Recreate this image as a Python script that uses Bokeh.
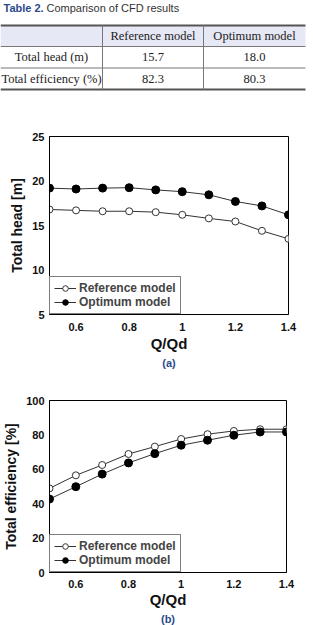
from bokeh.plotting import figure
from bokeh.layouts import column
from bokeh.models import ColumnDataSource, Legend, LegendItem, Title, FixedTicker, Range1d
from bokeh.core.properties import value
from bokeh.embed import file_html
from bokeh.resources import INLINE

# ---- data ----
q_ratio = [0.5, 0.6, 0.7, 0.8, 0.9, 1.0, 1.1, 1.2, 1.3, 1.4]
head_reference = [16.8, 16.7, 16.6, 16.6, 16.5, 16.2, 15.8, 15.45, 14.4, 13.5]
head_optimum = [19.2, 19.1, 19.2, 19.25, 19.0, 18.8, 18.45, 17.7, 17.2, 16.2]
eff_reference = [48.9, 56.5, 62.5, 68.9, 73.2, 77.6, 80.4, 82.3, 83.3, 83.3]
eff_optimum = [42.7, 49.9, 57.2, 63.7, 69.1, 74.0, 76.9, 79.8, 81.7, 81.7]

table_columns = ["Reference model", "Optimum model"]
table_rows = ["Total head (m)", "Total efficiency (%)"]
table_reference = [15.7, 82.3]
table_optimum = [18.0, 80.3]

SANS = "Liberation Sans"
SERIF = "Liberation Serif"
W = 313

# ---- table drawn in a pixel-space figure (no axes) ----
t = figure(frame_width=W, frame_height=100, x_range=Range1d(0, W), y_range=Range1d(100, 0),
           x_axis_type=None, y_axis_type=None,
           output_backend="svg", toolbar_location=None,
           min_border_left=0, min_border_right=0, min_border_top=0, min_border_bottom=0)
t.grid.visible = False
t.outline_line_color = None

t.text(x=[3], y=[7], text=["Table 2."], text_font=value(SANS), text_font_style="bold",
       text_font_size="11px", text_color="#2B4A8E", text_baseline="middle")
t.text(x=[46], y=[7], text=["Comparison of CFD results"], text_font=value(SANS),
       text_font_size="11px", text_color="#333333", text_baseline="middle")

col_edges = [0, 102, 203, 305]
row_edges = [25, 46, 67.5, 89]
t.quad(left=[col_edges[0]], right=[col_edges[3]], top=[row_edges[0]], bottom=[row_edges[1]],
       fill_color="#E6E8F5", line_color=None)
t.segment(x0=[0, 0], x1=[305, 305], y0=[row_edges[0], row_edges[3]], y1=[row_edges[0], row_edges[3]],
          line_color="#555555", line_width=2)
t.segment(x0=[0, 0], x1=[305, 305], y0=[row_edges[1], row_edges[2]], y1=[row_edges[1], row_edges[2]],
          line_color="#777777", line_width=1)
t.segment(x0=col_edges[1:3], x1=col_edges[1:3], y0=[row_edges[0]] * 2, y1=[row_edges[3]] * 2,
          line_color="#777777", line_width=1)

col_centers = [(col_edges[i] + col_edges[i + 1]) / 2 for i in range(3)]
row_centers = [(row_edges[i] + row_edges[i + 1]) / 2 for i in range(3)]
tx, ty, tt = [], [], []
for j, name in enumerate(table_columns):
    tx.append(col_centers[j + 1]); ty.append(row_centers[0]); tt.append(name)
for i, name in enumerate(table_rows):
    tx.append(col_centers[0]); ty.append(row_centers[i + 1]); tt.append(name)
    tx.append(col_centers[1]); ty.append(row_centers[i + 1]); tt.append(f"{table_reference[i]:.1f}")
    tx.append(col_centers[2]); ty.append(row_centers[i + 1]); tt.append(f"{table_optimum[i]:.1f}")
t.text(x=tx, y=ty, text=tt, text_font=value(SERIF), text_font_size="12.5px", text_color="#222222",
       text_align="center", text_baseline="middle")


def make_panel(ref, opt, y_start, y_end, y_ticks, y_label, tag, top, fh, bottom, left, right,
               tick_standoff, label_standoff):
    p = figure(frame_width=W - left - right, frame_height=fh,
               min_border_left=left, min_border_right=right,
               min_border_top=top, min_border_bottom=bottom,
               x_range=Range1d(0.5, 1.4), y_range=Range1d(y_start, y_end),
               output_backend="svg", toolbar_location=None)
    p.grid.visible = False
    p.outline_line_color = "black"
    p.outline_line_width = 1

    p.xaxis.ticker = FixedTicker(ticks=[0.6, 0.8, 1.0, 1.2, 1.4])
    p.xaxis.major_label_overrides = {1.0: "1"}
    p.yaxis.ticker = FixedTicker(ticks=y_ticks)
    for ax in (p.xaxis, p.yaxis):
        ax.major_tick_out = 0
        ax.major_tick_in = 0
        ax.minor_tick_out = 0
        ax.minor_tick_in = 0
        ax.axis_line_color = "black"
        ax.major_label_text_font = SANS
        ax.major_label_text_font_style = "bold"
        ax.major_label_text_font_size = "11px"
        ax.major_label_text_color = "#111111"
        ax.axis_label_text_font = SANS
        ax.axis_label_text_font_style = "bold"
        ax.axis_label_text_color = "#111111"
    p.xaxis.major_label_standoff = tick_standoff
    p.xaxis.axis_label = "Q/Qd"
    p.xaxis.axis_label_text_font_size = "15px"
    p.xaxis.axis_label_standoff = label_standoff
    p.yaxis.major_label_standoff = 5
    p.yaxis.axis_label = y_label
    p.yaxis.axis_label_text_font_size = "14px"
    p.yaxis.axis_label_standoff = 4

    src = ColumnDataSource(dict(q=q_ratio, ref=ref, opt=opt))
    l1 = p.line("q", "ref", source=src, line_color="#333333", line_width=1)
    m1 = p.scatter("q", "ref", source=src, size=7, fill_color="white", line_color="#333333", line_width=1)
    l2 = p.line("q", "opt", source=src, line_color="#333333", line_width=1)
    m2 = p.scatter("q", "opt", source=src, size=8, fill_color="black", line_color="black")

    leg = Legend(items=[LegendItem(label="Reference model", renderers=[l1, m1]),
                        LegendItem(label="Optimum model", renderers=[l2, m2])],
                 location="bottom_left", margin=0, padding=4, spacing=0,
                 glyph_width=22, glyph_height=14, label_standoff=3,
                 label_text_font=SANS, label_text_font_style="bold", label_text_font_size="12px",
                 label_height=14, border_line_color="black", border_line_width=1,
                 background_fill_alpha=1)
    p.add_layout(leg, "center")

    p.add_layout(Title(text=tag, align="center", text_font=SANS, text_font_style="bold",
                       text_font_size="11px", text_color="#2B4A8E", standoff=0), "below")
    return p


pa = make_panel(head_reference, head_optimum, 5, 25, [5, 10, 15, 20, 25], "Total head [m]", "(a)",
                top=36, fh=178, bottom=56, left=45, right=29, tick_standoff=8, label_standoff=1)
pb = make_panel(eff_reference, eff_optimum, 0, 100, [0, 20, 40, 60, 80, 100], "Total efficiency [%]", "(b)",
                top=30, fh=172, bottom=53, left=46, right=30, tick_standoff=7, label_standoff=0)

# the table sits in its own column so that its frame is not lined up with the panels' frames
layout = column(column(t), column(pa, pb, spacing=0), spacing=0)
open("out.html", "w").write(file_html(layout, INLINE))
